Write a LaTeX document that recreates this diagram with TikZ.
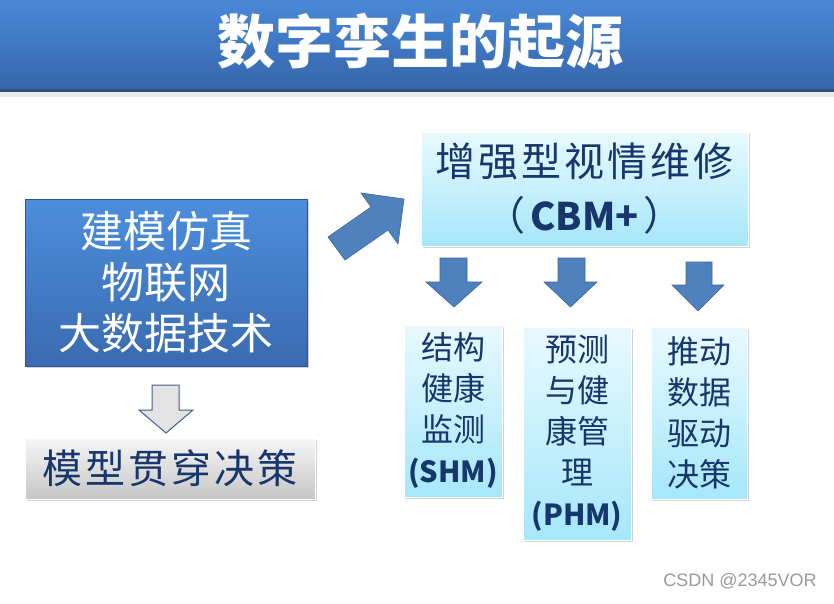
\documentclass[tikz,border=0pt]{standalone}
\usepackage{fontspec}
\setmainfont{Noto Sans CJK SC}
\newfontfamily\spaced{Noto Sans CJK SC}[LetterSpace=7.5]
\newfontfamily\wmfont{Liberation Sans}
\usetikzlibrary{shadows}
\definecolor{titletop}{HTML}{4A88D6}
\definecolor{titlebot}{HTML}{3566AB}
\definecolor{titleline}{HTML}{2E4F80}
\definecolor{bluetop}{HTML}{4C8EDC}
\definecolor{bluebot}{HTML}{3A6AB0}
\definecolor{cyantop}{HTML}{E8F9FE}
\definecolor{cyanbot}{HTML}{A5E7FA}
\definecolor{graytop}{HTML}{F6F6F6}
\definecolor{graybot}{HTML}{C6C6C6}
\definecolor{navy}{HTML}{17366B}
\definecolor{arrowblue}{HTML}{4F81BD}
\definecolor{arrowedge}{HTML}{3B639A}
\tikzset{
  boxshadow/.style={drop shadow={opacity=0.35,shadow xshift=1.5pt,shadow yshift=-1.5pt}},
  bluebox/.style={top color=bluetop,bottom color=bluebot,draw=bluebot!80!black,line width=0.4pt,
    boxshadow,inner sep=0pt,align=center,text=white,font=\fontsize{43}{51}\selectfont},
  cyanbox/.style={top color=cyantop,bottom color=cyanbot,draw=white,line width=0.6pt,
    boxshadow,inner sep=0pt,align=center,text=navy},
  graybox/.style={top color=graytop,bottom color=graybot,draw=white,line width=0.6pt,
    boxshadow,inner sep=0pt,align=center,text=navy},
  smalltxt/.style={font=\fontsize{32}{41}\selectfont},
  latinlbl/.style={},
  blockarrow/.style={fill=arrowblue,draw=arrowedge,line width=0.6pt},
  hollowarrow/.style={fill=graytop!60!graybot,draw=navy!80,line width=1pt}
}
\newcommand{\abbr}[1]{{\fontsize{29}{41}\selectfont\bfseries #1}}
\begin{document}
\begin{tikzpicture}[x=1pt,y=-1pt]
\useasboundingbox (0,0) rectangle (834,603);
\fill[white] (0,0) rectangle (834,603);
% title bar
\fill[black!8] (0,90) rectangle (834,97);
\shade[top color=titletop,bottom color=titlebot] (0,0) rectangle (834,90);
\fill[titleline] (0,89) rectangle (834,92);
\node[font=\bfseries\fontsize{58}{62}\selectfont,text=white] (title) at (420,42) {数字孪生的起源};
% left blue box
\node[bluebox,minimum width=282pt,minimum height=167pt] (tech) at (166,282.5)
  {建模仿真\\物联网\\大数据技术};
% hollow gray arrow
\draw[hollowarrow] (152,385) -- (179,385) -- (179,410) -- (193,410) -- (166,433)
  -- (139,410) -- (152,410) -- cycle;
% gray box
\node[graybox,minimum width=290pt,minimum height=61pt,font=\spaced\fontsize{40}{44}\selectfont] (model) at (170,468.5)
  {模型贯穿决策};
% diagonal arrow
\draw[blockarrow] (328,237) -- (371,207) -- (361,193) -- (404,199) -- (398,244)
  -- (388,230) -- (345,260) -- cycle;
% CBM+ box
\node[cyanbox,minimum width=327pt,minimum height=114pt,font=\fontsize{40}{54}\selectfont] (cbm) at (584.5,189)
  {{\spaced 增强型视情维修}\\（\hspace{5pt}{\fontsize{38}{54}\selectfont\bfseries CBM+}\hspace{5pt}）};
% small arrows
\draw[blockarrow] (440,258) -- (467,258) -- (467,282) -- (482,282) -- (454,307)
  -- (426,282) -- (440,282) -- cycle;
\draw[blockarrow] (558,258) -- (585,258) -- (585,282) -- (597,282) -- (570.5,307)
  -- (544,282) -- (558,282) -- cycle;
\draw[blockarrow] (686,262) -- (712,262) -- (712,285) -- (724,285) -- (698,311)
  -- (672,285) -- (686,285) -- cycle;
% lower boxes
\node[cyanbox,smalltxt,minimum width=98pt,minimum height=172pt] (shm) at (453,411)
  {结构\\健康\\监测\\\abbr{(SHM)}};
\node[cyanbox,smalltxt,minimum width=108pt,minimum height=213pt] (phm) at (577,433.5)
  {预测\\与健\\康管\\理\\\abbr{(PHM)}};
\node[cyanbox,smalltxt,minimum width=96pt,minimum height=172pt] (ddd) at (699,413)
  {推动\\数据\\驱动\\决策};
% watermark
\node[font=\wmfont\fontsize{18}{20}\selectfont,text=black!40] (wm) at (740,581) {CSDN @2345VOR};
\end{tikzpicture}
\end{document}
